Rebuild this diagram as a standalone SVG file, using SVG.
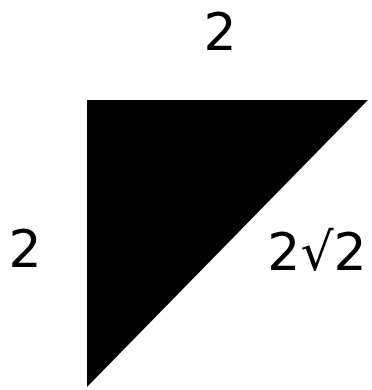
<svg xmlns="http://www.w3.org/2000/svg" width="372" height="390" viewBox="0 0 372 390">
<style>
text{font-family:"DejaVu Sans",sans-serif;font-size:52px;fill:#000;text-anchor:middle}
</style>
<rect width="372" height="390" fill="#fff"/>
<g id="triangle"><polygon points="87,100 368,100 87,387" fill="#000"/></g>
<g id="labels">
<text x="220" y="50">2</text>
<text x="25" y="267">2</text>
<text x="317" y="270">2√2</text>
</g>
</svg>
